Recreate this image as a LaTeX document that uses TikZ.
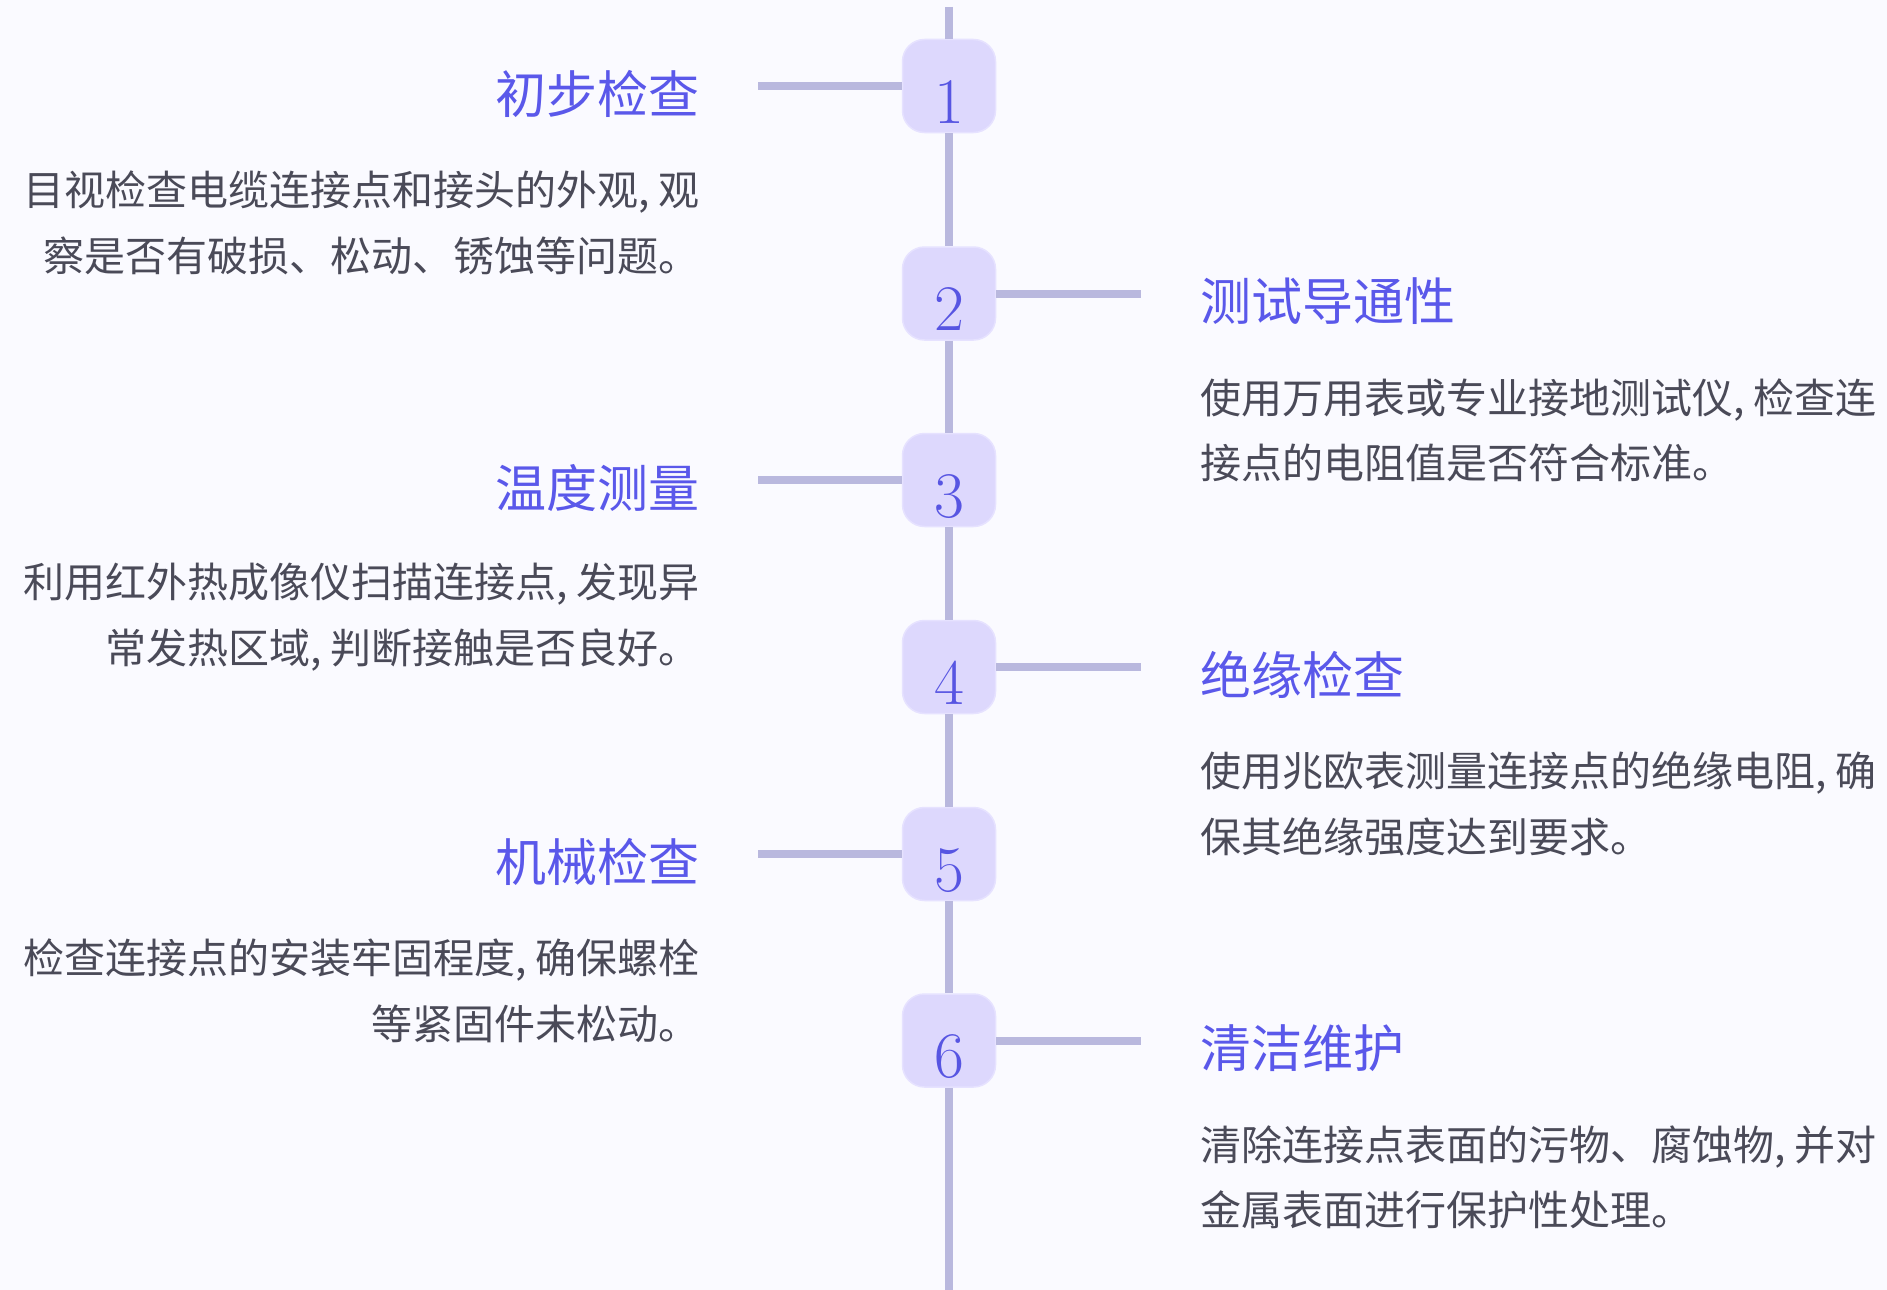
\documentclass[tikz,border=0pt]{standalone}
\usepackage{fontspec}
\newfontfamily\cjk{Noto Sans CJK SC}
\definecolor{bgcol}{HTML}{FAFAFF}
\definecolor{linecol}{HTML}{B9B8DE}
\definecolor{boxfill}{HTML}{DDD8FD}
\definecolor{boxedge}{HTML}{E6E2FF}
\definecolor{numcol}{HTML}{5755E2}
\definecolor{titlecol}{HTML}{5A58EA}
\definecolor{desccol}{HTML}{4A4A58}
\tikzset{
  stepbox/.style={rectangle, rounded corners=22pt, minimum size=93pt, inner sep=0pt,
    fill=boxfill, draw=boxedge, line width=1.5pt, text=numcol,
    font=\fontsize{65}{65}\selectfont},
  steptitle/.style={font=\cjk\fontsize{51}{51}\selectfont, text=titlecol, inner sep=0pt},
  stepdesc/.style={font=\cjk\fontsize{41}{65.5}\selectfont, text=desccol, inner sep=0pt},
  tline/.style={draw=linecol, line width=8pt}
}
\newcommand{\stepnum}[1]{\raisebox{-37pt}[0pt][0pt]{#1}}
\begin{document}
\begin{tikzpicture}[x=1pt,y=-1pt]
\fill[bgcol] (0,0) rectangle (1887,1290);
\useasboundingbox (0,0) rectangle (1887,1290);

% boxes
\node[stepbox] (b1) at (949,86) {\stepnum{1}};
\node[stepbox] (b2) at (949,293.5) {\stepnum{2}};
\node[stepbox] (b3) at (949,480) {\stepnum{3}};
\node[stepbox] (b4) at (949,667) {\stepnum{4}};
\node[stepbox] (b5) at (949,854) {\stepnum{5}};
\node[stepbox] (b6) at (949,1040.5) {\stepnum{6}};

% timeline
\coordinate (top) at (949,7);
\coordinate (bot) at (949,1290);
\draw[tline] (top) -- (b1.north);
\draw[tline] (b1.south) -- (b2.north);
\draw[tline] (b2.south) -- (b3.north);
\draw[tline] (b3.south) -- (b4.north);
\draw[tline] (b4.south) -- (b5.north);
\draw[tline] (b5.south) -- (b6.north);
\draw[tline] (b6.south) -- (bot);

% side connectors
\coordinate (c1) at (758,86);
\coordinate (c2) at (1141,293.5);
\coordinate (c3) at (758,480);
\coordinate (c4) at (1141,667);
\coordinate (c5) at (758,854);
\coordinate (c6) at (1141,1040.5);
\draw[tline] (c1) -- (b1.west);
\draw[tline] (b2.east) -- (c2);
\draw[tline] (c3) -- (b3.west);
\draw[tline] (b4.east) -- (c4);
\draw[tline] (c5) -- (b5.west);
\draw[tline] (b6.east) -- (c6);

% titles
\node[steptitle, anchor=east] (t1) at (700,94) {初步检查};
\node[steptitle, anchor=west] (t2) at (1200,301.5) {测试导通性};
\node[steptitle, anchor=east] (t3) at (700,488) {温度测量};
\node[steptitle, anchor=west] (t4) at (1200,675) {绝缘检查};
\node[steptitle, anchor=east] (t5) at (700,862) {机械检查};
\node[steptitle, anchor=west] (t6) at (1200,1048.5) {清洁维护};

% descriptions
\node[stepdesc, anchor=east, align=right] (d1) at (700,223) {目视检查电缆连接点和接头的外观, 观\\察是否有破损、松动、锈蚀等问题。};
\node[stepdesc, anchor=west, align=left] (d2) at (1200,430.5) {使用万用表或专业接地测试仪, 检查连\\接点的电阻值是否符合标准。};
\node[stepdesc, anchor=east, align=right] (d3) at (700,617) {利用红外热成像仪扫描连接点, 发现异\\常发热区域, 判断接触是否良好。};
\node[stepdesc, anchor=west, align=left] (d4) at (1200,804) {使用兆欧表测量连接点的绝缘电阻, 确\\保其绝缘强度达到要求。};
\node[stepdesc, anchor=east, align=right] (d5) at (700,991) {检查连接点的安装牢固程度, 确保螺栓\\等紧固件未松动。};
\node[stepdesc, anchor=west, align=left] (d6) at (1200,1177.5) {清除连接点表面的污物、腐蚀物, 并对\\金属表面进行保护性处理。};
\end{tikzpicture}
\end{document}
